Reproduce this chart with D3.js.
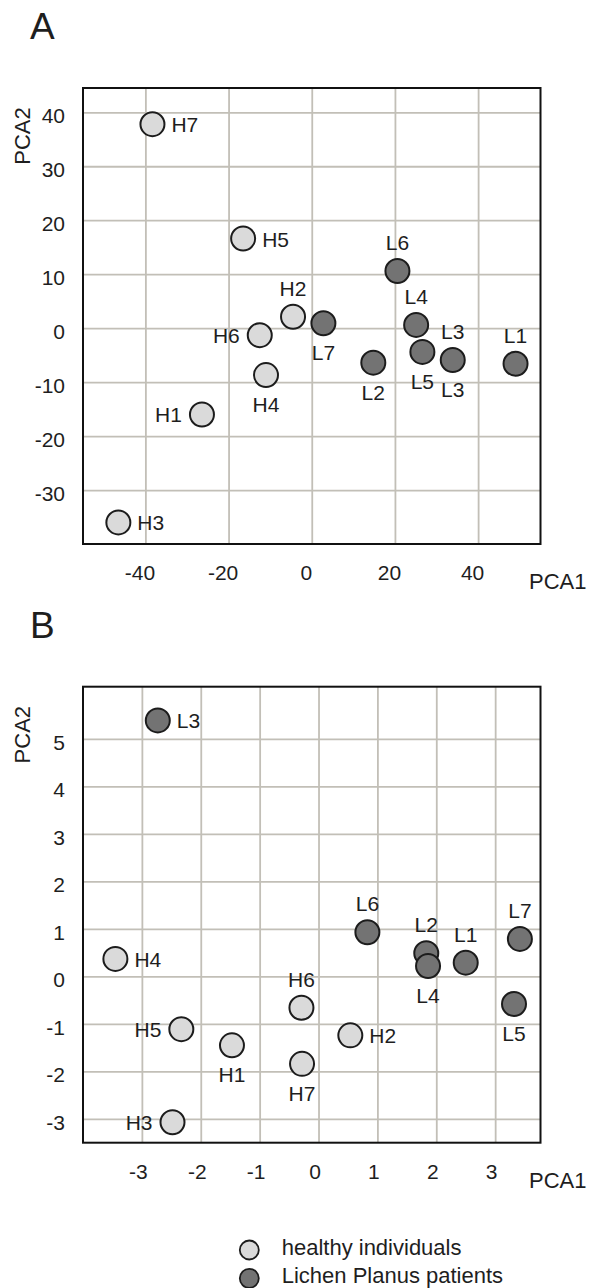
<!DOCTYPE html>
<html>
<head>
<meta charset="utf-8">
<script src="https://cdn.jsdelivr.net/npm/d3@7"></script>
<style>
  html, body { margin: 0; padding: 0; background: #fff; }
  svg text { font-family: "Liberation Sans", Arial, sans-serif; fill: #1e1e1e; }
</style>
</head>
<body>
<svg id="chart" width="589" height="1288"></svg>
<script>
// sample names (same order in both panels)
const samples = ['H1', 'H2', 'H3', 'H4', 'H5', 'H6', 'H7', 'L1', 'L2', 'L3', 'L4', 'L5', 'L6', 'L7'];
const groups = ['healthy', 'healthy', 'healthy', 'healthy', 'healthy', 'healthy', 'healthy',
  'lichen', 'lichen', 'lichen', 'lichen', 'lichen', 'lichen', 'lichen'];

// panel A scores
const pca1A = [-26.4, -4.5, -46.5, -11, -16.5, -12.5, -38.3, 49, 14.8, 33.9, 25.1, 26.6, 20.6, 2.8];
const pca2A = [-16, 2.1, -36, -8.7, 16.6, -1.3, 37.8, -6.6, -6.4, -5.9, 0.6, -4.4, 10.6, 0.9];
const xTicksA = [-40, -20, 0, 20, 40];
const yTicksA = [-30, -20, -10, 0, 10, 20, 30, 40];

// panel B scores
const pca1B = [-1.47, 0.54, -2.48, -3.45, -2.33, -0.29, -0.28, 2.5, 1.83, -2.73, 1.86, 3.32, 0.83, 3.42];
const pca2B = [-1.45, -1.24, -3.07, 0.37, -1.11, -0.66, -1.84, 0.29, 0.49, 5.39, 0.22, -0.58, 0.93, 0.79];
const xTicksB = [-3, -2, -1, 0, 1, 2, 3];
const yTicksB = [-3, -2, -1, 0, 1, 2, 3, 4, 5];

const legendLabels = ['healthy individuals', 'Lichen Planus patients'];

// where each point's label sits
const sidesA = [['left'], ['top'], ['right'], ['bottom'], ['right'], ['left'], ['right'],
  ['top'], ['bottom'], ['top', 'bottom'], ['top'], ['bottom'], ['top'], ['bottom']];
const sidesB = [['bottom'], ['right'], ['left'], ['right'], ['left'], ['top'], ['bottom'],
  ['top'], ['top'], ['right'], ['bottom'], ['bottom'], ['top'], ['top']];

const fills = { healthy: '#dadada', lichen: '#737373' };
const gridColor = '#c2bfb7';
const svg = d3.select('#chart');
const plainNum = (d) => String(d); // hyphen minus like the original

function drawPanel(opts) {
  const { letter, top, xDomain, yDomain, xTicks, yTicks, pc1, pc2, sides, tickShift } = opts;
  const left = 83, right = 540.5, bottom = top + 456;

  const x = d3.scaleLinear().domain(xDomain).range([left, right]);
  const y = d3.scaleLinear().domain(yDomain).range([bottom, top]);
  const g = svg.append('g');

  g.append('text')
    .attr('x', 30).attr('y', top - 49)
    .style('font-size', '37px')
    .text(letter);

  // grid
  const gx = g.append('g')
    .attr('transform', `translate(0,${bottom})`)
    .call(d3.axisBottom(x).tickValues(xTicks).tickSize(-(bottom - top)).tickFormat(''));
  const gy = g.append('g')
    .attr('transform', `translate(${left},0)`)
    .call(d3.axisLeft(y).tickValues(yTicks).tickSize(-(right - left)).tickFormat(''));
  [gx, gy].forEach((a) => {
    a.select('.domain').remove();
    a.selectAll('line').attr('stroke', gridColor).attr('stroke-width', 1.8);
  });

  // tick labels
  const lx = g.append('g')
    .attr('transform', `translate(0,${bottom})`)
    .call(d3.axisBottom(x).tickValues(xTicks).tickSize(0).tickPadding(21).tickFormat(plainNum));
  const ly = g.append('g')
    .attr('transform', `translate(${left},0)`)
    .call(d3.axisLeft(y).tickValues(yTicks).tickSize(0).tickPadding(18).tickFormat(plainNum));
  [lx, ly].forEach((a) => {
    a.select('.domain').remove();
    a.selectAll('text')
      .attr('fill', '#1e1e1e')
      .style('font-family', '"Liberation Sans", Arial, sans-serif')
      .style('font-size', '21px');
  });
  lx.selectAll('text').attr('dx', tickShift);
  ly.selectAll('text').attr('dy', '0.5em');

  // frame
  g.append('rect')
    .attr('x', left).attr('y', top)
    .attr('width', right - left).attr('height', bottom - top)
    .attr('fill', 'none').attr('stroke', '#111').attr('stroke-width', 2);

  // axis titles
  g.append('text')
    .attr('transform', `translate(30,${top + 48}) rotate(-90)`)
    .attr('text-anchor', 'middle')
    .style('font-size', '22px')
    .text('PCA2');
  g.append('text')
    .attr('x', 529).attr('y', bottom + 45)
    .style('font-size', '22px')
    .text('PCA1');

  const points = samples.map((name, i) => ({
    name, group: groups[i], x: pc1[i], y: pc2[i], sides: sides[i]
  }));

  g.append('g').selectAll('circle')
    .data(points)
    .join('circle')
    .attr('cx', (d) => x(d.x))
    .attr('cy', (d) => y(d.y))
    .attr('r', 12)
    .attr('fill', (d) => fills[d.group])
    .attr('stroke', '#1c1c1c')
    .attr('stroke-width', 2);

  const labels = points.flatMap((d) => d.sides.map((side) => ({ ...d, side })));
  g.append('g').selectAll('text')
    .data(labels)
    .join('text')
    .style('font-size', '21px')
    .attr('x', (d) => {
      const cx = x(d.x);
      if (d.side === 'right') return cx + 19;
      if (d.side === 'left') return cx - 20;
      return cx;
    })
    .attr('y', (d) => {
      const cy = y(d.y);
      if (d.side === 'top') return cy - 21;
      if (d.side === 'bottom') return cy + 37;
      return cy + 8;
    })
    .attr('text-anchor', (d) => {
      if (d.side === 'right') return 'start';
      if (d.side === 'left') return 'end';
      return 'middle';
    })
    .text((d) => d.name);
}

drawPanel({
  letter: 'A', top: 88,
  xDomain: [-55, 55], yDomain: [-40, 44.5],
  xTicks: xTicksA, yTicks: yTicksA,
  pc1: pca1A, pc2: pca2A, sides: sidesA, tickShift: -6
});

drawPanel({
  letter: 'B', top: 686.7,
  xDomain: [-4, 3.77], yDomain: [-3.5, 6.1],
  xTicks: xTicksB, yTicks: yTicksB,
  pc1: pca1B, pc2: pca2B, sides: sidesB, tickShift: -4
});

// legend
const legend = svg.append('g').attr('transform', 'translate(249.3,1250)');
const legendRow = d3.scaleLinear().domain([0, 1]).range([0, 28.3]);
legend.selectAll('circle')
  .data(legendLabels)
  .join('circle')
  .attr('cx', 0)
  .attr('cy', (d, i) => legendRow(i))
  .attr('r', 9.5)
  .attr('fill', (d, i) => (i === 0 ? fills.healthy : fills.lichen))
  .attr('stroke', '#1c1c1c')
  .attr('stroke-width', 1.8);
legend.selectAll('text')
  .data(legendLabels)
  .join('text')
  .attr('x', 32.4)
  .attr('y', (d, i) => legendRow(i) + 5)
  .style('font-size', '22px')
  .text((d) => d);
</script>
</body>
</html>
